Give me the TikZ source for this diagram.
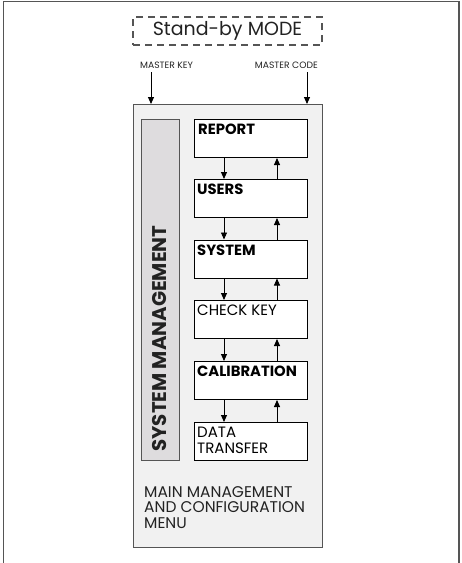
\documentclass[tikz,border=0pt]{standalone}
\usepackage{fontspec}
\setmainfont{Poppins}
\usetikzlibrary{arrows.meta}
\definecolor{framegray}{HTML}{555555}
\definecolor{mainfill}{HTML}{F1F1F1}
\definecolor{barfill}{HTML}{DEDCDE}
\definecolor{txt}{HTML}{222222}
\tikzset{
  frameline/.style={draw=framegray, line width=1.2pt},
  dashbox/.style={draw=framegray, dashed, dash pattern=on 7pt off 5pt, line width=1.1pt, minimum width=189pt, minimum height=28pt, inner sep=0pt, font=\fontsize{19}{21}\selectfont, text=txt},
  smalllbl/.style={font=\fontsize{9.2}{10}\selectfont, text=txt, inner sep=0pt},
  mainbox/.style={draw=framegray, fill=mainfill, line width=1.2pt, minimum width=189pt, minimum height=443pt, inner sep=0pt, anchor=north west},
  sidebar/.style={draw=framegray, fill=barfill, line width=1pt, minimum width=38pt, minimum height=341pt, inner sep=0pt, anchor=north west},
  menubox/.style={draw=black, fill=white, line width=1pt, minimum width=113pt, minimum height=38pt, inner sep=0pt, anchor=north west},
  boxlbl/.style={anchor=base west, inner sep=0pt, font=\fontsize{15}{16}\selectfont, text=black, align=left},
  boldlbl/.style={boxlbl, font=\fontsize{14.8}{16}\selectfont\bfseries},
  arr/.style={draw=black, line width=0.9pt, -{Triangle[length=7pt,width=6pt]}},
}
\begin{document}
\begin{tikzpicture}[x=1pt,y=-1pt]
\useasboundingbox (0,0) rectangle (462,563);
\draw[frameline] (3.5,563) -- (3.5,1.5) -- (459,1.5) -- (459,563);
\node[dashbox] (standby) at (227.5,31) {Stand-by MODE};
\node[smalllbl, anchor=base west] (mk) at (140,68) {MASTER KEY};
\node[smalllbl, anchor=base east] (mc) at (318,68) {MASTER CODE};
\node[mainbox] (main) at (133,104) {};
\coordinate (mka) at (151,72);
\coordinate (mca) at (307,72);
\draw[arr] (mka) -- (mka |- main.north);
\draw[arr] (mca) -- (mca |- main.north);
\node[sidebar] (bar) at (141,119) {};
\node[rotate=90, inner sep=0pt, font=\fontsize{19.8}{21}\selectfont\bfseries, text=txt] (sm) at (159.5,338.5) {SYSTEM MANAGEMENT};
\node[menubox] (b1) at (194,119) {};
\node[menubox] (b2) at (194,179) {};
\node[menubox] (b3) at (194,239.5) {};
\node[menubox] (b4) at (194,300) {};
\node[menubox] (b5) at (194,361) {};
\node[menubox] (b6) at (194,422) {};
\node[boldlbl] (l1) at ([xshift=4pt,yshift=-15.5pt]b1.north west) {REPORT};
\node[boldlbl] (l2) at ([xshift=3pt,yshift=-15.5pt]b2.north west) {USERS};
\node[boldlbl] (l3) at ([xshift=3pt,yshift=-15.5pt]b3.north west) {SYSTEM};
\node[boxlbl] (l4) at ([xshift=3pt,yshift=-15.5pt]b4.north west) {CHECK KEY};
\node[boldlbl] (l5) at ([xshift=3pt,yshift=-15.5pt]b5.north west) {CALIBRATION};
\node[boxlbl] (l6) at ([xshift=3pt,yshift=-31.5pt]b6.north west) {DATA\\TRANSFER};
\foreach \a/\b in {b1/b2,b2/b3,b3/b4,b4/b5,b5/b6}{
  \draw[arr] ([xshift=30pt]\a.south west) -- ([xshift=30pt]\b.north west);
  \draw[arr] ([xshift=-31pt]\b.north east) -- ([xshift=-31pt]\a.south east);
}
\node[anchor=base west, inner sep=0pt, align=left, font=\fontsize{15.5}{15.5}\selectfont, text=txt] (menu) at (144,528) {MAIN MANAGEMENT\\AND CONFIGURATION\\MENU};
\end{tikzpicture}
\end{document}
